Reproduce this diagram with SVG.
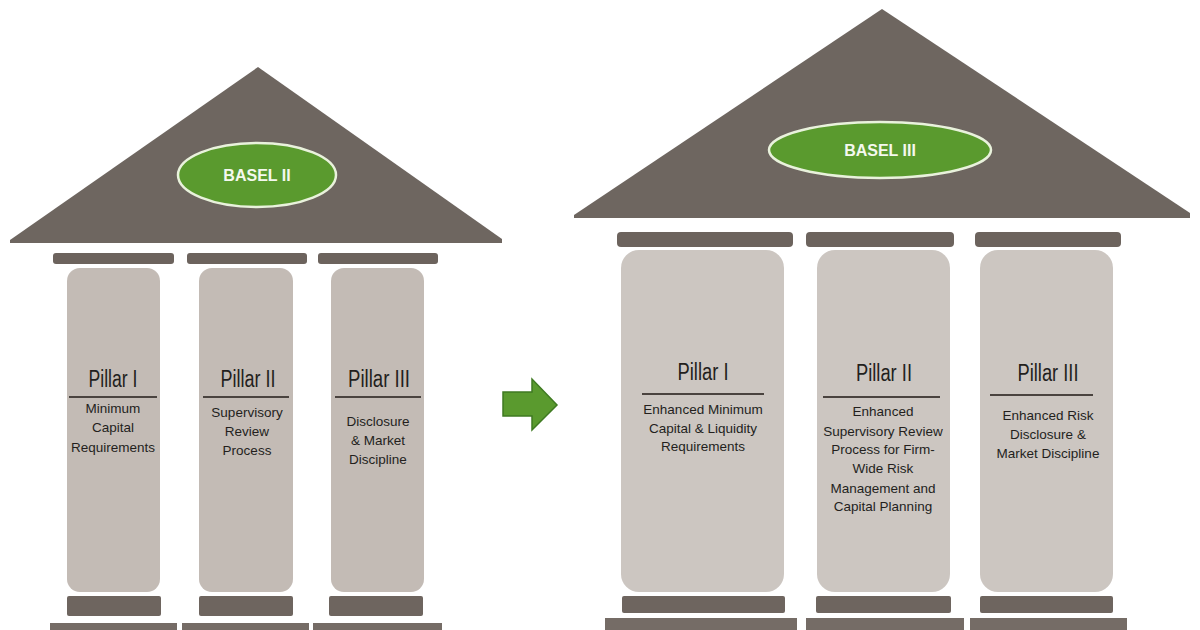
<svg xmlns="http://www.w3.org/2000/svg" width="1200" height="630" viewBox="0 0 1200 630">
<defs>
<style>
.roof{fill:#6e6660}
.lintel{fill:#6c635d}
.col{fill:#c3bbb5}
.colR{fill:#ccc6c1}
.plinth{fill:#6e655f}
.step{fill:#756c66}
.oval{fill:#5a9a2e;stroke:#e9f2dc;stroke-width:2.5}
.badge{font-family:"Liberation Sans",Arial,sans-serif;font-weight:bold;font-size:16px;fill:#f4f8ee;text-anchor:middle}
.title{font-family:"Liberation Sans",Arial,sans-serif;font-size:23px;fill:#231f1d;text-anchor:middle}
.body{font-family:"Liberation Sans",Arial,sans-serif;font-size:13.5px;fill:#231f1d;text-anchor:middle}
.rule{stroke:#4a433f;stroke-width:2}
</style>
</defs>
<rect width="1200" height="630" fill="#ffffff"/>

<g id="basel2">
  <polygon class="roof" points="258,67 502,239 502,243 10,243 10,240"/>
  <ellipse class="oval" cx="257" cy="175" rx="79" ry="32"/>
  <text class="badge" x="257" y="181">BASEL II</text>
  <rect class="lintel" x="53" y="253" width="121" height="11" rx="3"/>
  <rect class="lintel" x="187" y="253" width="120" height="11" rx="3"/>
  <rect class="lintel" x="318" y="253" width="120" height="11" rx="3"/>
</g>

<g id="b2-pillar1">
  <rect class="col" x="67" y="268" width="93" height="324" rx="13"/>
  <rect class="plinth" x="67" y="596" width="94" height="20" rx="2"/>
  <rect class="step" x="50" y="623" width="127" height="10"/>
  <text class="title" x="113" y="387" textLength="49" lengthAdjust="spacingAndGlyphs">Pillar I</text>
  <line class="rule" x1="69" y1="397" x2="157" y2="397"/>
  <text class="body" x="113" y="413">Minimum</text>
  <text class="body" x="113" y="432">Capital</text>
  <text class="body" x="113" y="452">Requirements</text>
</g>

<g id="b2-pillar2">
  <rect class="col" x="199" y="268" width="94" height="324" rx="13"/>
  <rect class="plinth" x="199" y="596" width="94" height="20" rx="2"/>
  <rect class="step" x="182" y="623" width="127" height="10"/>
  <text class="title" x="248" y="387" textLength="55" lengthAdjust="spacingAndGlyphs">Pillar II</text>
  <line class="rule" x1="203" y1="397" x2="289" y2="397"/>
  <text class="body" x="247" y="417">Supervisory</text>
  <text class="body" x="247" y="436">Review</text>
  <text class="body" x="247" y="455">Process</text>
</g>

<g id="b2-pillar3">
  <rect class="col" x="331" y="268" width="93" height="324" rx="13"/>
  <rect class="plinth" x="329" y="596" width="94" height="20" rx="2"/>
  <rect class="step" x="313" y="623" width="129" height="10"/>
  <text class="title" x="379" y="387" textLength="62" lengthAdjust="spacingAndGlyphs">Pillar III</text>
  <line class="rule" x1="335" y1="397" x2="421" y2="397"/>
  <text class="body" x="378" y="426">Disclosure</text>
  <text class="body" x="378" y="445">&amp; Market</text>
  <text class="body" x="378" y="464">Discipline</text>
</g>

<g id="connectors">
  <polygon points="503,392 532,392 532,379 557,405 532,430 532,416 503,416" fill="#5a9a2e" stroke="#3f7a22" stroke-width="1.5"/>
</g>

<g id="basel3">
  <polygon class="roof" points="882,9 1190,213 1190,218 574,218 574,215"/>
  <ellipse class="oval" cx="880" cy="150" rx="111" ry="28"/>
  <text class="badge" x="880" y="156">BASEL III</text>
  <rect class="lintel" x="617" y="232" width="176" height="15" rx="4"/>
  <rect class="lintel" x="806" y="232" width="148" height="15" rx="4"/>
  <rect class="lintel" x="975" y="232" width="146" height="15" rx="4"/>
</g>

<g id="b3-pillar1">
  <rect class="colR" x="621" y="250" width="163" height="342" rx="18"/>
  <rect class="plinth" x="622" y="596" width="163" height="17" rx="2"/>
  <rect class="step" x="605" y="618" width="192" height="14"/>
  <text class="title" x="703" y="380" textLength="51" lengthAdjust="spacingAndGlyphs">Pillar I</text>
  <line class="rule" x1="642" y1="394" x2="764" y2="394"/>
  <text class="body" x="703" y="414">Enhanced Minimum</text>
  <text class="body" x="703" y="433">Capital &amp; Liquidity</text>
  <text class="body" x="703" y="451">Requirements</text>
</g>

<g id="b3-pillar2">
  <rect class="colR" x="817" y="250" width="133" height="342" rx="18"/>
  <rect class="plinth" x="816" y="596" width="135" height="17" rx="2"/>
  <rect class="step" x="806" y="618" width="158" height="14"/>
  <text class="title" x="884" y="381" textLength="56" lengthAdjust="spacingAndGlyphs">Pillar II</text>
  <line class="rule" x1="823" y1="397" x2="940" y2="397"/>
  <text class="body" x="883" y="416">Enhanced</text>
  <text class="body" x="883" y="436">Supervisory Review</text>
  <text class="body" x="883" y="454">Process for Firm-</text>
  <text class="body" x="883" y="473">Wide Risk</text>
  <text class="body" x="883" y="493">Management and</text>
  <text class="body" x="883" y="511">Capital Planning</text>
</g>

<g id="b3-pillar3">
  <rect class="colR" x="980" y="250" width="133" height="342" rx="18"/>
  <rect class="plinth" x="980" y="596" width="133" height="17" rx="2"/>
  <rect class="step" x="970" y="618" width="157" height="14"/>
  <text class="title" x="1048" y="381" textLength="61" lengthAdjust="spacingAndGlyphs">Pillar III</text>
  <line class="rule" x1="990" y1="395" x2="1093" y2="395"/>
  <text class="body" x="1048" y="420">Enhanced Risk</text>
  <text class="body" x="1048" y="439">Disclosure &amp;</text>
  <text class="body" x="1048" y="458">Market Discipline</text>
</g>
</svg>
